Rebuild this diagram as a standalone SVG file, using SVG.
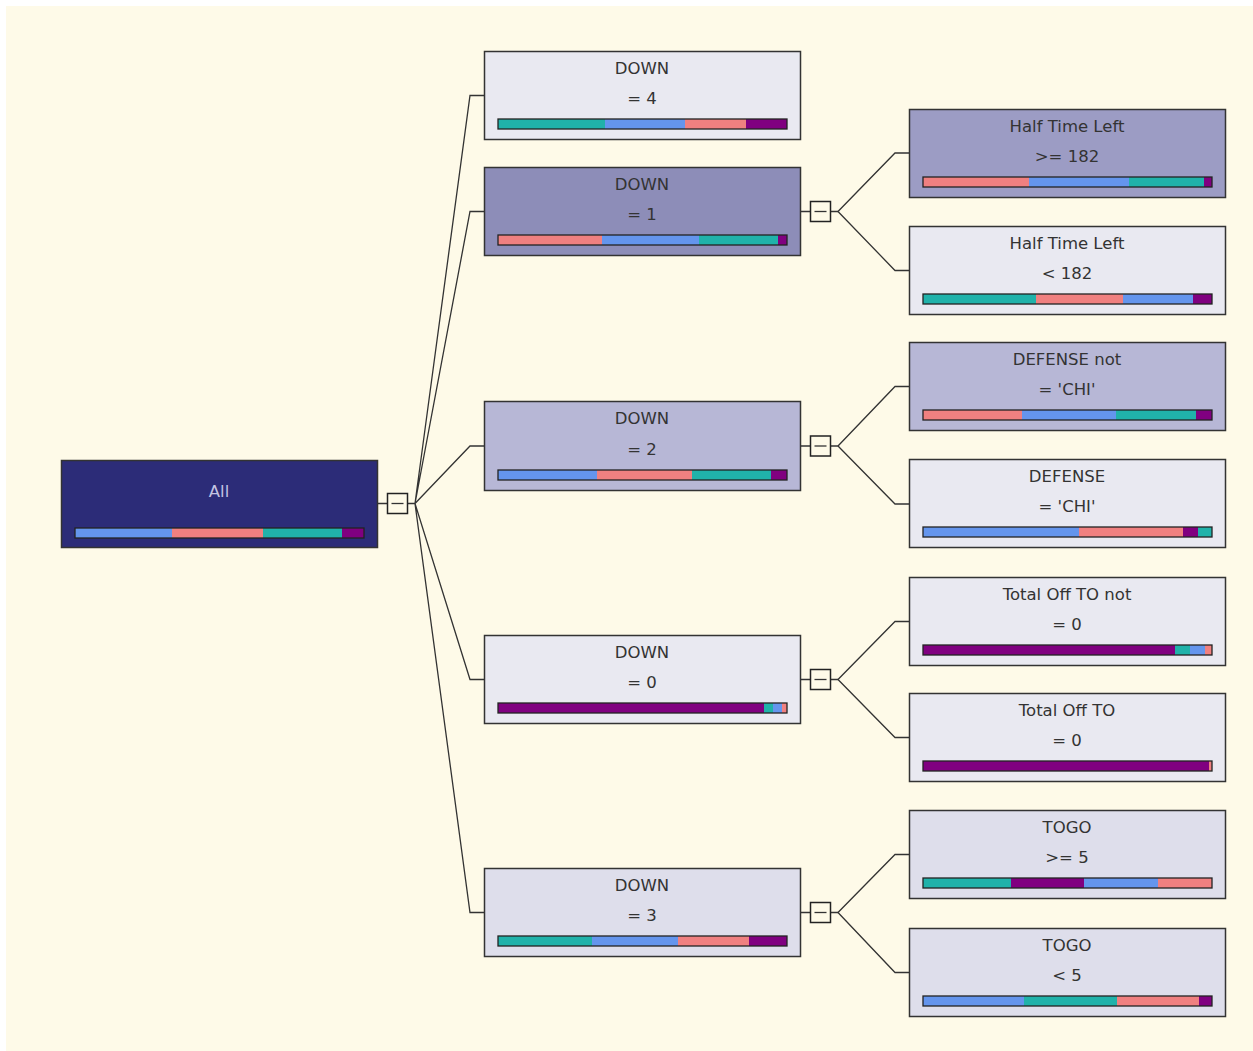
<svg xmlns="http://www.w3.org/2000/svg" width="1253" height="1051" viewBox="0 0 1253 1051">
  <style>
    .node rect.box { stroke: #333333; stroke-width: 1.5; }
    .lt { fill: #e9e9f1; }
    .lt2 { fill: #dedeeb; }
    .md { fill: #b7b7d6; }
    .md2 { fill: #9c9cc4; }
    .dk { fill: #8d8db8; }
    .root { fill: #2c2c78; }
    text { font-family: "DejaVu Sans", Verdana, sans-serif; font-size: 16.5px; text-anchor: middle; fill: #333333; }
    text.inv { fill: #c4c4e2; }
    .t { fill: #20b2aa; }
    .b { fill: #6495ed; }
    .s { fill: #f08080; }
    .p { fill: #800080; }
    .barframe { fill: none; stroke: #222222; stroke-width: 1.3; }
    .wire { fill: none; stroke: #333333; stroke-width: 1.3; }
    .toggle { fill: none; stroke: #222222; stroke-width: 1.5; }
  </style>

  <!-- canvas -->
  <rect x="0" y="0" width="1253" height="1051" fill="#ffffff"/>
  <rect x="6" y="6" width="1247" height="1045" fill="#fefae8"/>

  <!-- connectors and collapse toggles -->
  <g id="connectors">
    <!-- root fan-out -->
    <path class="wire" d="M378 503.5H387M408 503.5H415"/>
    <rect class="toggle" x="387.5" y="493.5" width="20" height="20"/>
    <path class="wire" d="M391.5 503.5H403.5"/>
    <path class="wire" d="M415 503.5L470 95.5H484M415 503.5L470 211.5H484M415 503.5L470 446H484M415 503.5L470 679.5H484M415 503.5L470 912.5H484"/>

    <!-- DOWN = 1 -->
    <path class="wire" d="M801 211.5H810M831 211.5H838"/>
    <rect class="toggle" x="810.5" y="201.5" width="20" height="20"/>
    <path class="wire" d="M814.5 211.5H826.5"/>
    <path class="wire" d="M838 211.5L895 153H909M838 211.5L895 270.5H909"/>

    <!-- DOWN = 2 -->
    <path class="wire" d="M801 446H810M831 446H838"/>
    <rect class="toggle" x="810.5" y="436" width="20" height="20"/>
    <path class="wire" d="M814.5 446H826.5"/>
    <path class="wire" d="M838 446L895 386.5H909M838 446L895 504H909"/>

    <!-- DOWN = 0 -->
    <path class="wire" d="M801 679.5H810M831 679.5H838"/>
    <rect class="toggle" x="810.5" y="669.5" width="20" height="20"/>
    <path class="wire" d="M814.5 679.5H826.5"/>
    <path class="wire" d="M838 679.5L895 621.5H909M838 679.5L895 737.5H909"/>

    <!-- DOWN = 3 -->
    <path class="wire" d="M801 912.5H810M831 912.5H838"/>
    <rect class="toggle" x="810.5" y="902.5" width="20" height="20"/>
    <path class="wire" d="M814.5 912.5H826.5"/>
    <path class="wire" d="M838 912.5L895 854.5H909M838 912.5L895 972.5H909"/>
  </g>

  <!-- root -->
  <g id="node-all" class="node">
    <rect class="box root" x="61.5" y="460.5" width="316" height="87"/>
    <text class="inv" x="219" y="497">All</text>
    <rect class="b" x="75" y="528" width="97" height="10"/>
    <rect class="s" x="172" y="528" width="91" height="10"/>
    <rect class="t" x="263" y="528" width="79" height="10"/>
    <rect class="p" x="342" y="528" width="22" height="10"/>
    <rect class="barframe" x="75" y="528" width="289" height="10"/>
  </g>

  <!-- second level -->
  <g id="node-down-4" class="node">
    <rect class="box lt" x="484.5" y="51.5" width="316" height="88"/>
    <text x="642" y="74">DOWN</text>
    <text x="642" y="104">= 4</text>
    <rect class="t" x="498" y="119" width="107" height="10"/>
    <rect class="b" x="605" y="119" width="80" height="10"/>
    <rect class="s" x="685" y="119" width="61" height="10"/>
    <rect class="p" x="746" y="119" width="41" height="10"/>
    <rect class="barframe" x="498" y="119" width="289" height="10"/>
  </g>

  <g id="node-down-1" class="node">
    <rect class="box dk" x="484.5" y="167.5" width="316" height="88"/>
    <text x="642" y="190">DOWN</text>
    <text x="642" y="220">= 1</text>
    <rect class="s" x="498" y="235" width="104" height="10"/>
    <rect class="b" x="602" y="235" width="97" height="10"/>
    <rect class="t" x="699" y="235" width="79" height="10"/>
    <rect class="p" x="778" y="235" width="9" height="10"/>
    <rect class="barframe" x="498" y="235" width="289" height="10"/>
  </g>

  <g id="node-down-2" class="node">
    <rect class="box md" x="484.5" y="401.5" width="316" height="89"/>
    <text x="642" y="424">DOWN</text>
    <text x="642" y="455">= 2</text>
    <rect class="b" x="498" y="470" width="99" height="10"/>
    <rect class="s" x="597" y="470" width="95" height="10"/>
    <rect class="t" x="692" y="470" width="79" height="10"/>
    <rect class="p" x="771" y="470" width="16" height="10"/>
    <rect class="barframe" x="498" y="470" width="289" height="10"/>
  </g>

  <g id="node-down-0" class="node">
    <rect class="box lt" x="484.5" y="635.5" width="316" height="88"/>
    <text x="642" y="658">DOWN</text>
    <text x="642" y="688">= 0</text>
    <rect class="p" x="498" y="703" width="266" height="10"/>
    <rect class="t" x="764" y="703" width="9" height="10"/>
    <rect class="b" x="773" y="703" width="9" height="10"/>
    <rect class="s" x="782" y="703" width="5" height="10"/>
    <rect class="barframe" x="498" y="703" width="289" height="10"/>
  </g>

  <g id="node-down-3" class="node">
    <rect class="box lt2" x="484.5" y="868.5" width="316" height="88"/>
    <text x="642" y="891">DOWN</text>
    <text x="642" y="921">= 3</text>
    <rect class="t" x="498" y="936" width="94" height="10"/>
    <rect class="b" x="592" y="936" width="86" height="10"/>
    <rect class="s" x="678" y="936" width="71" height="10"/>
    <rect class="p" x="749" y="936" width="38" height="10"/>
    <rect class="barframe" x="498" y="936" width="289" height="10"/>
  </g>

  <!-- third level -->
  <g id="node-htl-ge-182" class="node">
    <rect class="box md2" x="909.5" y="109.5" width="316" height="88"/>
    <text x="1067" y="132">Half Time Left</text>
    <text x="1067" y="162">&gt;= 182</text>
    <rect class="s" x="923" y="177" width="106" height="10"/>
    <rect class="b" x="1029" y="177" width="100" height="10"/>
    <rect class="t" x="1129" y="177" width="75" height="10"/>
    <rect class="p" x="1204" y="177" width="8" height="10"/>
    <rect class="barframe" x="923" y="177" width="289" height="10"/>
  </g>

  <g id="node-htl-lt-182" class="node">
    <rect class="box lt" x="909.5" y="226.5" width="316" height="88"/>
    <text x="1067" y="249">Half Time Left</text>
    <text x="1067" y="279">&lt; 182</text>
    <rect class="t" x="923" y="294" width="113" height="10"/>
    <rect class="s" x="1036" y="294" width="87" height="10"/>
    <rect class="b" x="1123" y="294" width="70" height="10"/>
    <rect class="p" x="1193" y="294" width="19" height="10"/>
    <rect class="barframe" x="923" y="294" width="289" height="10"/>
  </g>

  <g id="node-defense-not-chi" class="node">
    <rect class="box md" x="909.5" y="342.5" width="316" height="88"/>
    <text x="1067" y="365">DEFENSE not</text>
    <text x="1067" y="395">= 'CHI'</text>
    <rect class="s" x="923" y="410" width="99" height="10"/>
    <rect class="b" x="1022" y="410" width="94" height="10"/>
    <rect class="t" x="1116" y="410" width="80" height="10"/>
    <rect class="p" x="1196" y="410" width="16" height="10"/>
    <rect class="barframe" x="923" y="410" width="289" height="10"/>
  </g>

  <g id="node-defense-chi" class="node">
    <rect class="box lt" x="909.5" y="459.5" width="316" height="88"/>
    <text x="1067" y="482">DEFENSE</text>
    <text x="1067" y="512">= 'CHI'</text>
    <rect class="b" x="923" y="527" width="156" height="10"/>
    <rect class="s" x="1079" y="527" width="104" height="10"/>
    <rect class="p" x="1183" y="527" width="15" height="10"/>
    <rect class="t" x="1198" y="527" width="14" height="10"/>
    <rect class="barframe" x="923" y="527" width="289" height="10"/>
  </g>

  <g id="node-totoff-not-0" class="node">
    <rect class="box lt" x="909.5" y="577.5" width="316" height="88"/>
    <text x="1067" y="600">Total Off TO not</text>
    <text x="1067" y="630">= 0</text>
    <rect class="p" x="923" y="645" width="252" height="10"/>
    <rect class="t" x="1175" y="645" width="15" height="10"/>
    <rect class="b" x="1190" y="645" width="15" height="10"/>
    <rect class="s" x="1205" y="645" width="7" height="10"/>
    <rect class="barframe" x="923" y="645" width="289" height="10"/>
  </g>

  <g id="node-totoff-0" class="node">
    <rect class="box lt" x="909.5" y="693.5" width="316" height="88"/>
    <text x="1067" y="716">Total Off TO</text>
    <text x="1067" y="746">= 0</text>
    <rect class="p" x="923" y="761" width="286" height="10"/>
    <rect class="s" x="1209" y="761" width="3" height="10"/>
    <rect class="barframe" x="923" y="761" width="289" height="10"/>
  </g>

  <g id="node-togo-ge-5" class="node">
    <rect class="box lt2" x="909.5" y="810.5" width="316" height="88"/>
    <text x="1067" y="833">TOGO</text>
    <text x="1067" y="863">&gt;= 5</text>
    <rect class="t" x="923" y="878" width="88" height="10"/>
    <rect class="p" x="1011" y="878" width="73" height="10"/>
    <rect class="b" x="1084" y="878" width="74" height="10"/>
    <rect class="s" x="1158" y="878" width="54" height="10"/>
    <rect class="barframe" x="923" y="878" width="289" height="10"/>
  </g>

  <g id="node-togo-lt-5" class="node">
    <rect class="box lt2" x="909.5" y="928.5" width="316" height="88"/>
    <text x="1067" y="951">TOGO</text>
    <text x="1067" y="981">&lt; 5</text>
    <rect class="b" x="923" y="996" width="101" height="10"/>
    <rect class="t" x="1024" y="996" width="93" height="10"/>
    <rect class="s" x="1117" y="996" width="82" height="10"/>
    <rect class="p" x="1199" y="996" width="13" height="10"/>
    <rect class="barframe" x="923" y="996" width="289" height="10"/>
  </g>
</svg>
